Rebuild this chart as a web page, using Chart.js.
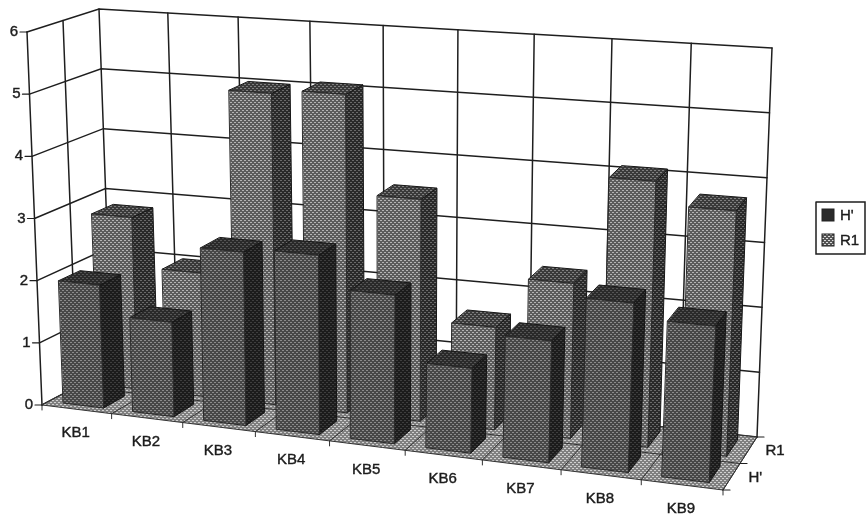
<!DOCTYPE html>
<html>
<head>
<meta charset="utf-8">
<script src="https://cdn.jsdelivr.net/npm/chart.js@4"></script>
<style>
html,body{margin:0;padding:0;background:#fff;}
#wrap{width:868px;height:516px;position:relative;}
canvas{filter:blur(.35px);}
</style>
</head>
<body>
<div id="wrap"><canvas id="mycanvas" width="868" height="516"></canvas></div>
<script>
var categories = ["KB1","KB2","KB3","KB4","KB5","KB6","KB7","KB8","KB9"];
var seriesNames = ["H'","R1"];
var valuesH = [1.97,1.5,2.73,2.8,2.3,1.3,1.85,2.55,2.33];
var valuesR1 = [2.8,2.0,5.0,5.07,3.5,1.6,2.4,4.08,3.73];

// corners of the 3d box as seen in the picture: [x,y]
var box = {
	flb:[42,405], flt:[27,32],
	blb:[112,368], blt:[99,9],
	frb:[723,490], frt:[741,85],
	brb:[757,437], brt:[772,48]
};
var perspective = 0.09;

function mix(a,b,t){ return [a[0]+(b[0]-a[0])*t, a[1]+(b[1]-a[1])*t]; }

// u along categories, w into the depth, v up the value axis (all 0..1)
function project(u,w,v){
	var s = u + perspective*u*(u-1);
	var f = mix(mix(box.flb,box.frb,s), mix(box.flt,box.frt,s), v);
	var b = mix(mix(box.blb,box.brb,s), mix(box.blt,box.brt,s), v);
	return mix(f,b,w);
}

function dots(bg,fg){
	var c = document.createElement("canvas");
	c.width = 4; c.height = 4;
	var g = c.getContext("2d");
	g.fillStyle = bg; g.fillRect(0,0,4,4);
	g.fillStyle = fg;
	g.fillRect(0,0,2,1); g.fillRect(2,2,2,1);
	return g.createPattern(c,"repeat");
}

function poly(ctx,pts,fill,stroke,lw){
	ctx.beginPath();
	ctx.moveTo(pts[0][0],pts[0][1]);
	for(var i=1;i<pts.length;i++) ctx.lineTo(pts[i][0],pts[i][1]);
	if(fill){ ctx.closePath(); ctx.fillStyle = fill; ctx.fill(); }
	if(stroke){ ctx.strokeStyle = stroke; ctx.lineWidth = lw||1; ctx.stroke(); }
}

var lineColor = "#1e1e1e";
var textColor = "#1c1c1c";

function label(ctx,text,x,y){
	ctx.fillStyle = textColor;
	ctx.strokeStyle = textColor;
	ctx.lineWidth = 0.4;
	ctx.fillText(text,x,y);
	ctx.strokeText(text,x,y);
}

var box3d = {
	id:"box3d",
	beforeDatasetsDraw:function(chart){
		var ctx = chart.ctx, area = chart.chartArea;
		var xs = chart.scales.x, ys = chart.scales.y;
		var nx = categories.length;
		function U(px){ return (px-area.left)/area.width; }
		function V(py){ return (area.bottom-py)/area.height; }

		var styles = [
			{front:dots("#484848","#8c8c8c"), side:dots("#1c1c1c","#3e3e3e"), top:dots("#2a2a2a","#555")},
			{front:dots("#5c5c5c","#b4b4b4"), side:dots("#2a2a2a","#6a6a6a"), top:dots("#3a3a3a","#808080")}
		];
		var floorFill = dots("#808080","#d0d0d0");

		ctx.save();
		ctx.lineCap = "round";

		// walls
		ys.ticks.forEach(function(t){
			var v = V(ys.getPixelForValue(t.value));
			poly(ctx,[project(0,0,v),project(0,1,v),project(1,1,v)],null,lineColor,1.5);
		});
		for(var i=0;i<=nx;i++){
			poly(ctx,[project(i/nx,1,0),project(i/nx,1,1)],null,lineColor,1.5);
		}
		poly(ctx,[project(0,0,0),project(0,0,1)],null,lineColor,1.5);
		poly(ctx,[project(0,.5,0),project(0,.5,1)],null,lineColor,1.5);

		// floor
		poly(ctx,[project(0,0,0),project(1,0,0),project(1,1,0),project(0,1,0)],floorFill,"#333",1);
		for(i=0;i<=nx;i++){
			poly(ctx,[project(i/nx,0,0),project(i/nx,1,0)],null,"#333",1);
		}
		poly(ctx,[project(0,.5,0),project(1,.5,0)],null,"#333",1);

		// bars, back row first
		for(var d=chart.data.datasets.length-1;d>=0;d--){
			var w0 = (d+0.2)/2, w1 = (d+0.82)/2;
			var st = styles[d];
			chart.getDatasetMeta(d).data.forEach(function(bar){
				var u0 = U(bar.x-bar.width/2), u1 = U(bar.x+bar.width/2);
				var vb = V(bar.base), vt = V(bar.y);
				poly(ctx,[project(u1,w0,vb),project(u1,w1,vb),project(u1,w1,vt),project(u1,w0,vt)],st.side,"#161616",1);
				poly(ctx,[project(u0,w0,vt),project(u1,w0,vt),project(u1,w1,vt),project(u0,w1,vt)],st.top,"#161616",1);
				poly(ctx,[project(u0,w0,vb),project(u1,w0,vb),project(u1,w0,vt),project(u0,w0,vt)],st.front,"#2a2a2a",1);
			});
		}

		// axes ticks and labels
		ctx.font = "15px 'Liberation Sans'";
		ctx.textBaseline = "middle";
		ctx.textAlign = "right";
		ys.ticks.forEach(function(t){
			var p = project(0,0,V(ys.getPixelForValue(t.value)));
			poly(ctx,[[p[0]-7,p[1]],p],null,lineColor,1.2);
			label(ctx,t.label,p[0]-9,p[1]);
		});
		ctx.textAlign = "center";
		for(i=0;i<=nx;i++){
			var p = project(i/nx,0,0);
			poly(ctx,[p,[p[0],p[1]+5]],null,"#333",1);
		}
		categories.forEach(function(name,k){
			var p = project(U(xs.getPixelForValue(k)),0,0);
			label(ctx,name,p[0]-1,p[1]+24);
		});
		ctx.textAlign = "left";
		for(i=0;i<=2;i++){
			var q = project(1,i/2,0);
			poly(ctx,[q,[q[0]+7,q[1]]],null,lineColor,1.2);
		}
		seriesNames.forEach(function(name,k){
			var q = project(1,(k+0.5)/2,0);
			label(ctx,name,q[0]+17,q[1]+1);
		});

		// legend
		poly(ctx,[[816,202],[865,202],[865,254],[816,254],[816,202]],null,lineColor,1.5);
		seriesNames.forEach(function(name,k){
			var y = 215 + k*25;
			ctx.fillStyle = k==0 ? "#2a2a2a" : dots("#555","#ddd");
			ctx.fillRect(822,y-6,12,12);
			ctx.strokeStyle = "#222"; ctx.lineWidth = 1;
			ctx.strokeRect(822,y-6,12,12);
			label(ctx,name,840,y+1);
		});
		ctx.restore();
		return false;
	}
};

var chartdata = {
	labels: categories,
	datasets: [
		{label: seriesNames[0], data: valuesH, backgroundColor: "#555", barPercentage: 0.58, categoryPercentage: 1},
		{label: seriesNames[1], data: valuesR1, backgroundColor: "#999", barPercentage: 0.58, categoryPercentage: 1}
	]
};

new Chart(document.getElementById("mycanvas"), {
	type: "bar",
	data: chartdata,
	options: {
		responsive: false,
		animation: false,
		datasets: { bar: { grouped: false } },
		plugins: { legend: {display:false}, tooltip: {enabled:false} },
		scales: {
			x: { display:false },
			y: { display:false, min:0, max:6, ticks:{stepSize:1} }
		}
	},
	plugins: [box3d]
});
</script>
</body>
</html>
